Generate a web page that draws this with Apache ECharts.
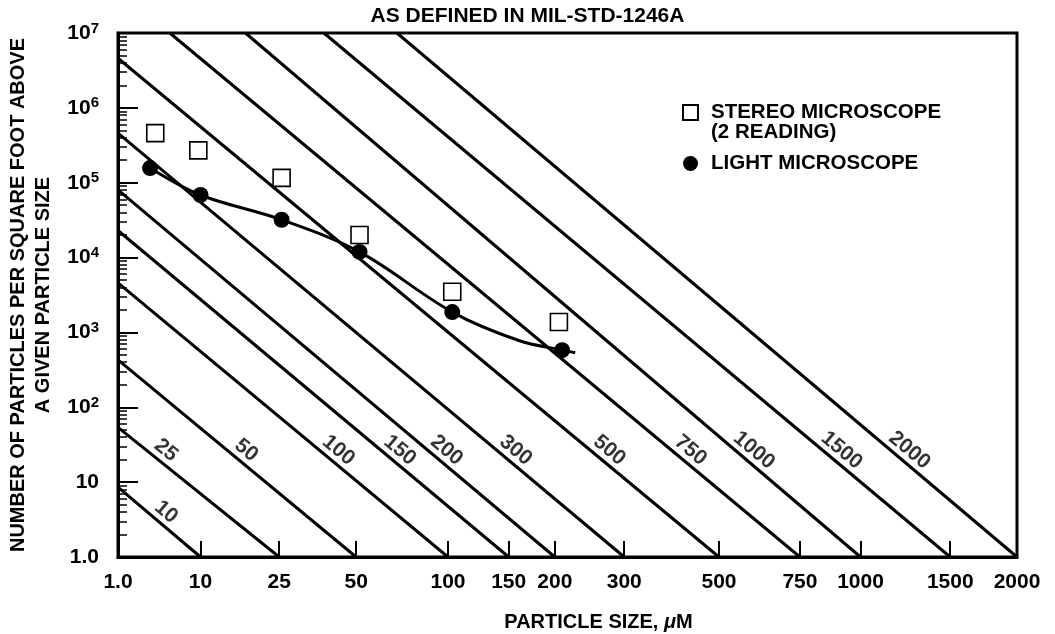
<!DOCTYPE html>
<html><head><meta charset="utf-8">
<script src="https://cdn.jsdelivr.net/npm/echarts@6/dist/echarts.min.js"></script>
<style>html,body{margin:0;padding:0;background:#fff}#c{width:1055px;height:634px}</style>
</head><body><div id="c"></div>
<script>
// ---- data ----
const sizeTicks = [1, 10, 25, 50, 100, 150, 200, 300, 500, 750, 1000, 1500, 2000];
const countTicks = [1, 10, 1e2, 1e3, 1e4, 1e5, 1e6, 1e7];

const levels = [10, 25, 50, 100, 150, 200, 300, 500, 750, 1000, 1500, 2000];
const levelStartSize = [1, 1, 1, 1, 1, 1, 1, 1, 6.2, 17.5, 38, 69];
const levelStartCount = [8.6, 54, 430, 4600, 23000, 80000, 4.6e5, 4.6e6, 1e7, 1e7, 1e7, 1e7];
const levelEndSize = [10, 25, 50, 100, 150, 200, 300, 500, 750, 1000, 1500, 2000];
const levelEndCount = [1, 1, 1, 1, 1, 1, 1, 1, 1, 1, 1, 1];
const levelLabelCount = [3, 20, 20, 20, 20, 20, 20, 20, 20, 20, 20, 20];

const stereoSize = [4.7, 9.7, 25.6, 51.4, 103, 205];
const stereoCount = [4.6e5, 2.7e5, 1.16e5, 2.0e4, 3.5e3, 1.38e3];
const lightSize = [4.2, 10, 25.6, 51.4, 103, 209];
const lightCount = [1.57e5, 6.85e4, 3.2e4, 1.19e4, 1.87e3, 580];
const fitSize = [4.2, 10, 25.6, 51.4, 103, 160, 209, 226];
const fitCount = [1.57e5, 6.85e4, 3.2e4, 1.19e4, 1.87e3, 780, 580, 535];

const STEREO = 'STEREO MICROSCOPE';
const LIGHT = 'LIGHT MICROSCOPE';

// ---- build ----
const F = "'Liberation Sans', Arial, Helvetica, sans-serif";
const xf = s => Math.pow(Math.log10(s), 2);   // MIL-STD-1246 log-squared size scale

const series = [];
levels.forEach((L, i) => {
  series.push({
    type: 'line', silent: true, symbol: 'none', z: 2,
    lineStyle: { color: '#000', width: 3 },
    data: [[xf(levelStartSize[i]), levelStartCount[i]], [xf(levelEndSize[i]), levelEndCount[i]]]
  });
});
const labelData = levels.map((L, i) => {
  const x1 = xf(levelStartSize[i]), x2 = xf(levelEndSize[i]);
  const y1 = Math.log10(levelStartCount[i]), y2 = Math.log10(levelEndCount[i]);
  const t = (Math.log10(levelLabelCount[i]) - y1) / (y2 - y1);
  return [x1 + t * (x2 - x1), levelLabelCount[i], String(L)];
});
series.push({
  type: 'scatter', silent: true, symbolSize: 1, z: 3,
  itemStyle: { color: 'rgba(0,0,0,0)' },
  label: {
    show: true, position: 'inside', formatter: p => p.value[2],
    rotate: -40, offset: [0, -12], color: '#000',
    fontFamily: F, fontWeight: 'bold', fontSize: 21
  },
  data: labelData
});
series.push({
  type: 'line', silent: true, symbol: 'none', smooth: 0.35, z: 4,
  lineStyle: { color: '#000', width: 3 },
  data: fitSize.map((s, i) => [xf(s), fitCount[i]])
});
series.push({
  name: STEREO, type: 'scatter', symbol: 'rect', symbolSize: 17, z: 5,
  itemStyle: { color: '#fff', borderColor: '#000', borderWidth: 1.6, opacity: 1 },
  data: stereoSize.map((s, i) => [xf(s), stereoCount[i]])
});
series.push({
  name: LIGHT, type: 'scatter', symbol: 'circle', symbolSize: 16, z: 5,
  itemStyle: { color: '#000', opacity: 1 },
  data: lightSize.map((s, i) => [xf(s), lightCount[i]])
});

const minorCounts = [];
for (let k = 0; k < 7; k++) for (let m = 2; m <= 9; m++) minorCounts.push(m * Math.pow(10, k));

const chart = echarts.init(document.getElementById('c'), null, { renderer: 'canvas' });
chart.setOption({
  animation: false,
  backgroundColor: '#fff',
  title: {
    text: 'AS DEFINED IN MIL-STD-1246A', left: 'center', top: 1,
    textStyle: { fontFamily: F, fontWeight: 'bold', fontSize: 21, color: '#000' }
  },
  grid: { left: 118, right: 38, top: 33, bottom: 77, show: true, borderColor: '#000', borderWidth: 3,
          containLabel: false, outerBoundsMode: 'none' },
  legend: {
    orient: 'vertical', left: 682, top: 82, padding: 0, itemWidth: 15, itemHeight: 15, itemGap: 10,
    selectedMode: false,
    textStyle: { fontFamily: F, fontWeight: 'bold', fontSize: 20.5, color: '#000', lineHeight: 20, padding: [0, 0, 0, 8] },
    data: [STEREO, LIGHT],
    formatter: n => n === STEREO ? ' \n' + STEREO + '\n(2 READING)' : n
  },
  xAxis: {
    type: 'value', min: 0, max: xf(2000),
    name: 'PARTICLE SIZE, {i|μ}M', nameLocation: 'middle', nameGap: 55,
    nameTextStyle: {
      fontFamily: F, fontWeight: 'bold', fontSize: 20, color: '#000', padding: [0, 0, 0, 62],
      rich: { i: { fontFamily: F, fontWeight: 'bold', fontStyle: 'italic', fontSize: 20, color: '#000' } }
    },
    axisLine: { lineStyle: { color: '#000', width: 3 } },
    axisTick: { inside: true, length: 16, lineStyle: { color: '#000', width: 2 }, customValues: sizeTicks.slice(1, -1).map(xf) },
    axisLabel: {
      customValues: sizeTicks.map(xf), margin: 15,
      fontFamily: F, fontWeight: 'bold', fontSize: 21, color: '#000',
      formatter: v => { const s = Math.round(Math.pow(10, Math.sqrt(v))); return s === 1 ? '1.0' : String(s); }
    },
    splitLine: { show: false }
  },
  yAxis: [{
    type: 'log', logBase: 10, min: 1, max: 1e7,
    name: 'NUMBER OF PARTICLES PER SQUARE FOOT ABOVE\nA GIVEN PARTICLE SIZE',
    nameLocation: 'middle', nameGap: 60, nameRotate: 90,
    nameTextStyle: { fontFamily: F, fontWeight: 'bold', fontSize: 20, color: '#000', lineHeight: 25, align: 'center' },
    axisLine: { lineStyle: { color: '#000', width: 3 } },
    axisTick: { inside: true, length: 20, lineStyle: { color: '#000', width: 2 }, customValues: countTicks },
    axisLabel: {
      customValues: countTicks, margin: 19,
      fontFamily: F, fontWeight: 'bold', fontSize: 21, color: '#000', lineHeight: 24,
      formatter: v => v === 1 ? '1.0' : v === 10 ? '10' : '10{s|' + Math.round(Math.log10(v)) + '}',
      rich: { s: { fontFamily: F, fontWeight: 'bold', fontSize: 15, lineHeight: 14, verticalAlign: 'top', color: '#000' } }
    },
    splitLine: { show: false }
  }, {
    type: 'log', logBase: 10, min: 1, max: 1e7, position: 'left',
    axisLine: { show: false },
    axisTick: { inside: true, length: 9, lineStyle: { color: '#000', width: 1.5 }, customValues: minorCounts },
    axisLabel: { show: false },
    splitLine: { show: false }
  }],
  series: series
});
</script>
</body></html>
